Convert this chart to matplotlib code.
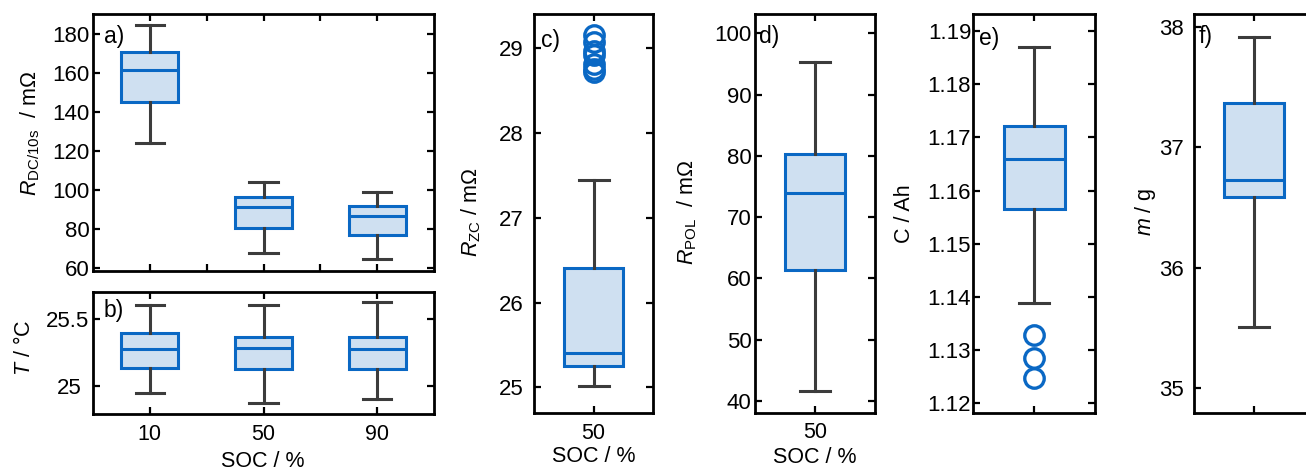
import matplotlib
matplotlib.use("Agg")
import matplotlib.pyplot as plt

plt.rcParams['font.family'] = ['Liberation Sans', 'DejaVu Sans']
plt.rcParams['mathtext.fontset'] = 'custom'
plt.rcParams['mathtext.rm'] = 'Liberation Sans'
plt.rcParams['mathtext.it'] = 'Liberation Sans:italic'

# ---------------- data ----------------
soc_labels = ['10', '50', '90']
soc_single = ['50']

# a) R_DC/10s / mOhm (SOC 10, 50, 90)
rdc_lo = [124.4, 67.7, 64.8]
rdc_q1 = [145.1, 80.8, 76.8]
rdc_med = [161.7, 91.3, 86.8]
rdc_q3 = [170.8, 96.7, 92.0]
rdc_hi = [184.8, 104.1, 99.0]

# b) T / degC
t_lo = [24.948, 24.874, 24.899]
t_q1 = [25.129, 25.122, 25.126]
t_med = [25.272, 25.282, 25.270]
t_q3 = [25.391, 25.364, 25.364]
t_hi = [25.604, 25.604, 25.623]

# c) R_ZC / mOhm
rzc_stats = dict(lo=25.02, q1=25.25, med=25.407, q3=26.404, hi=27.446)
rzc_fliers = [29.16, 29.08, 28.97, 28.92, 28.82, 28.76, 28.72]

# d) R_POL / mOhm
rpol_stats = dict(lo=41.7, q1=61.4, med=73.9, q3=80.3, hi=95.4)

# e) C / Ah
cap_stats = dict(lo=1.1389, q1=1.1565, med=1.1659, q3=1.1722, hi=1.1869)
cap_fliers = [1.1328, 1.1285, 1.1247]

# f) m / g
mass_stats = dict(lo=35.51, q1=36.585, med=36.729, q3=37.370, hi=37.917)

# tick values
a_yticks = [60, 80, 100, 120, 140, 160, 180]
b_yticks = [25, 25.5]
b_yticklabels = ['25', '25.5']
c_yticks = [25, 26, 27, 28, 29]
d_yticks = [40, 50, 60, 70, 80, 90, 100]
e_yticks = [1.12, 1.13, 1.14, 1.15, 1.16, 1.17, 1.18, 1.19]
e_yticklabels = ['1.12', '1.13', '1.14', '1.15', '1.16', '1.17', '1.18', '1.19']
f_yticks = [35, 36, 37, 38]

# ---------------- style ----------------
BLUE = '#0a68c4'
FILL = '#cfe0f1'
GREY = '#3c3c3c'
LW = 2.2
FS_TICK = 16
FS_LAB = 15.5
FS_LET = 16.5

W, H = 1306, 473
fig = plt.figure(figsize=(W / 100, H / 100), dpi=100)


def rect(l, r, t, b):
    return [l / W, 1 - b / H, (r - l) / W, (b - t) / H]


def make_stats(lo, q1, med, q3, hi, fliers=()):
    return dict(whislo=lo, q1=q1, med=med, q3=q3, whishi=hi, fliers=list(fliers))


def draw(ax, stats, positions):
    ax.bxp(stats, positions=positions, widths=0.5, patch_artist=True,
           boxprops=dict(facecolor=FILL, edgecolor=BLUE, linewidth=LW),
           medianprops=dict(color=BLUE, linewidth=LW),
           whiskerprops=dict(color=GREY, linewidth=LW),
           capprops=dict(color=GREY, linewidth=LW),
           flierprops=dict(marker='o', markerfacecolor='none', markeredgecolor=BLUE,
                           markersize=14, markeredgewidth=2.4))


def style(ax, ypad=2.5):
    for s in ax.spines.values():
        s.set_linewidth(2.0)
        s.set_color('black')
    ax.tick_params(direction='in', length=5, width=1.6, top=True, right=True,
                   labelsize=FS_TICK, colors='black')
    ax.tick_params(axis='y', pad=ypad)
    ax.tick_params(axis='x', pad=7, labelsize=15.5)
    ax.tick_params(which='minor', direction='in', length=5, width=1.6, top=True, bottom=True)


# a)
ax_a = fig.add_axes(rect(93, 434, 14, 271))
draw(ax_a, [make_stats(*v) for v in zip(rdc_lo, rdc_q1, rdc_med, rdc_q3, rdc_hi)], [1, 2, 3])
ax_a.set_xlim(0.5, 3.5)
ax_a.set_ylim(58.5, 190.5)
ax_a.set_yticks(a_yticks)
ax_a.set_xticks([1, 2, 3])
ax_a.set_xticks([1.5, 2.5], minor=True)
ax_a.set_xticklabels([])
style(ax_a)

# b)
ax_b = fig.add_axes(rect(93, 434, 291.7, 414))
draw(ax_b, [make_stats(*v) for v in zip(t_lo, t_q1, t_med, t_q3, t_hi)], [1, 2, 3])
ax_b.set_xlim(0.5, 3.5)
ax_b.set_ylim(24.79, 25.70)
ax_b.set_yticks(b_yticks, b_yticklabels)
ax_b.set_xticks([1, 2, 3], soc_labels)
style(ax_b)
ax_b.yaxis.get_major_ticks()[0].set_pad(8)

# c)
ax_c = fig.add_axes(rect(534, 653.3, 14, 413.3))
draw(ax_c, [make_stats(fliers=rzc_fliers, **rzc_stats)], [1])
ax_c.set_xlim(0.5, 1.5)
ax_c.set_ylim(24.693, 29.405)
ax_c.set_yticks(c_yticks)
ax_c.set_xticks([1], soc_single)
style(ax_c, ypad=7.5)

# d)
ax_d = fig.add_axes(rect(755, 875, 14, 412.7))
draw(ax_d, [make_stats(**rpol_stats)], [1])
ax_d.set_xlim(0.5, 1.5)
ax_d.set_ylim(38.1, 103.15)
ax_d.set_yticks(d_yticks)
ax_d.set_xticks([1], soc_single)
style(ax_d)

# e)
ax_e = fig.add_axes(rect(973.3, 1095, 14, 413.3))
draw(ax_e, [make_stats(fliers=cap_fliers, **cap_stats)], [1])
ax_e.set_xlim(0.5, 1.5)
ax_e.set_ylim(1.1181, 1.1932)
ax_e.set_yticks(e_yticks, e_yticklabels)
ax_e.set_xticks([1], [''])
style(ax_e, ypad=1.5)

# f)
ax_f = fig.add_axes(rect(1194.3, 1314.3, 14, 413.3))
draw(ax_f, [make_stats(**mass_stats)], [1])
ax_f.set_xlim(0.5, 1.5)
ax_f.set_ylim(34.793, 38.105)
ax_f.set_yticks(f_yticks)
ax_f.set_xticks([1], [''])
style(ax_f, ypad=7.5)


def ftext(x, y, s, fs=FS_LAB, **kw):
    fig.text(x / W, 1 - y / H, s, fontsize=fs, **kw)


# panel letters
for x, y, s in [(104, 36, 'a)'), (104, 310, 'b)'), (541, 40, 'c)'),
                (759, 37, 'd)'), (979, 39, 'e)'), (1199, 37, 'f)')]:
    ftext(x, y, s, fs=FS_LET, ha='left', va='center')

# y labels
ylab = [(30, 133, r'$R_{\mathrm{DC/10s}}$  / m$\Omega$'),
        (24, 348, r'$T$ / °C'),
        (471, 212, r'$R_{\mathrm{ZC}}$ / m$\Omega$'),
        (687, 212, r'$R_{\mathrm{POL}}$  / m$\Omega$'),
        (904, 214, 'C / Ah'),
        (1145, 212, r'$m$ / g')]
for x, y, s in ylab:
    ftext(x, y, s, ha='center', va='center', rotation=90)

# x labels
for x, y in [(262.5, 461), (594, 456), (815, 457)]:
    ftext(x, y, 'SOC / %', ha='center', va='center')

fig.savefig('out.png', dpi=100)
